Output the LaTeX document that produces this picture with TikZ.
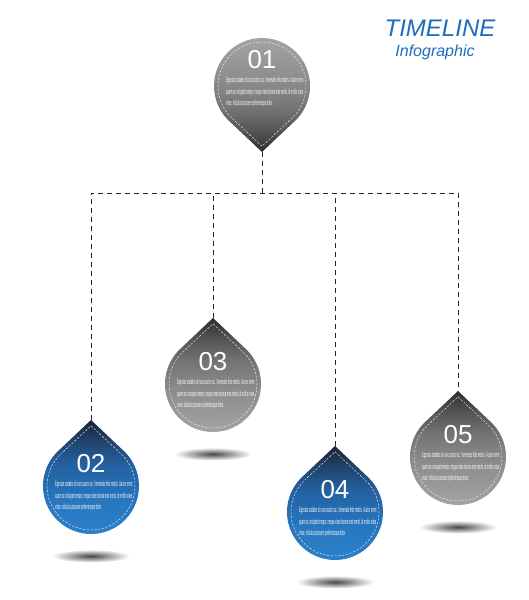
\documentclass[tikz,border=0pt]{standalone}
\usepackage{fontspec}
\setmainfont{Liberation Sans}
\usepackage{graphicx}
\usetikzlibrary{calc}
\definecolor{titleblue}{HTML}{1C6DBE}
\definecolor{ga}{HTML}{A6A6A6}
\definecolor{gb}{HTML}{939393}
\definecolor{gc}{HTML}{8A8A8A}
\definecolor{gd}{HTML}{767676}
\definecolor{ge}{HTML}{555555}
\definecolor{gf}{HTML}{2C2C2C}
\definecolor{ba}{HTML}{2C82CC}
\definecolor{bb}{HTML}{2878C0}
\definecolor{bc}{HTML}{2570B6}
\definecolor{bd}{HTML}{2462A2}
\definecolor{be}{HTML}{21446E}
\definecolor{bf}{HTML}{1A2333}
\pgfdeclareverticalshading{greydrop}{100bp}{color(0bp)=(ga); color(25bp)=(ga); color(40bp)=(gb); color(46bp)=(gc); color(56bp)=(gd); color(66bp)=(ge); color(75bp)=(gf); color(100bp)=(gf)}
\pgfdeclareverticalshading{bluedrop}{100bp}{color(0bp)=(ba); color(25bp)=(ba); color(40bp)=(bb); color(46bp)=(bc); color(56bp)=(bd); color(66bp)=(be); color(75bp)=(bf); color(100bp)=(bf)}
\tikzset{
  conn/.style={draw=black!85, line width=0.8pt, dash pattern=on 5pt off 4pt},
  stitch/.style={draw=white!92!black, line width=0.45pt, dash pattern=on 2.2pt off 1.6pt},
  numtxt/.style={text=white, font=\fontsize{26}{26}\selectfont, inner sep=0pt},
  bodytxt/.style={text=white, font=\fontsize{7.5}{11.5}\selectfont, align=left, inner sep=0pt},
  titletxt/.style={text=titleblue, font=\itshape\fontsize{24}{24}\selectfont, inner sep=0pt},
  subtxt/.style={text=titleblue, font=\itshape\fontsize{16}{16}\selectfont, inner sep=0pt}
}
\newcommand\sq[1]{\scalebox{0.33}[1]{#1}}
\newcommand\loremlines{\sq{Egestas sodales id nunc auctor ac. Venenatis felis mattis. Auctor enim}\\
\sq{quam ac volutpat tempor, neque vitae lacinia erat morbi, id mollis vitae}\\
\sq{vitae, ridiculus posuere pellentesque dolor.}}
% #1 name, #2 cx, #3 cy (screen), #4 tip direction, #5 shading, #6 shading angle, #7 number, #8 vertical text shift
\newcommand\teardrop[8]{%
  \coordinate (#1) at (#2,-#3);
  \coordinate (#1tip) at ($(#1)+({#4}:66)$);
  \shade[shading=#5, shading angle=#6]
    (#1tip) -- ($(#1)+({#4-43.3}:48)$)
    arc[start angle={#4-43.3}, delta angle=-273.4, radius=48] -- cycle;
  \path[stitch]
    ($(#1)+({#4}:60.2)$) -- ($(#1)+({#4-43.1}:44)$)
    arc[start angle={#4-43.1}, delta angle=-273.8, radius=44] -- cycle;
  \node[numtxt] (#1num) at ($(#1)+(0,22+#8)$) {#7};
  \node[bodytxt, anchor=north west] (#1txt) at ($(#1)+(-36,5+#8)$) {\loremlines};
}
\newcommand\dropshadow[1]{%
  \shade[inner color=black!72, outer color=white] ($(#1)+(0,-70)$) ellipse[x radius=39, y radius=6.5];
}
\begin{document}
\begin{tikzpicture}[x=1pt,y=1pt]
\useasboundingbox[fill=white] (0,0) rectangle (529,-600);

% title
\node[titletxt] (title) at (440,-28) {TIMELINE};
\node[subtxt, anchor=base] (subtitle) at (435,-56) {Infographic};

% shadows
\coordinate (s2) at (91,-486);
\coordinate (s3) at (213,-384);
\coordinate (s4) at (335,-512);
\coordinate (s5) at (458,-457);
\dropshadow{s2}
\dropshadow{s3}
\dropshadow{s4}
\dropshadow{s5}

% drops
\teardrop{d1}{262}{86}{-90}{greydrop}{180}{01}{4}
\teardrop{d2}{91}{486}{90}{bluedrop}{0}{02}{0}
\teardrop{d3}{213}{384}{90}{greydrop}{0}{03}{0}
\teardrop{d4}{335}{512}{90}{bluedrop}{0}{04}{0}
\teardrop{d5}{458}{457}{90}{greydrop}{0}{05}{0}

% connectors
\coordinate (hub) at (262,-193);
\draw[conn] (d1tip) -- (hub);
\draw[conn] (d2tip) -- (d2tip |- hub) -- (d5tip |- hub) -- (d5tip);
\draw[conn] (d3tip) -- (d3tip |- hub);
\draw[conn] (d4tip) -- (d4tip |- hub);
\end{tikzpicture}
\end{document}
